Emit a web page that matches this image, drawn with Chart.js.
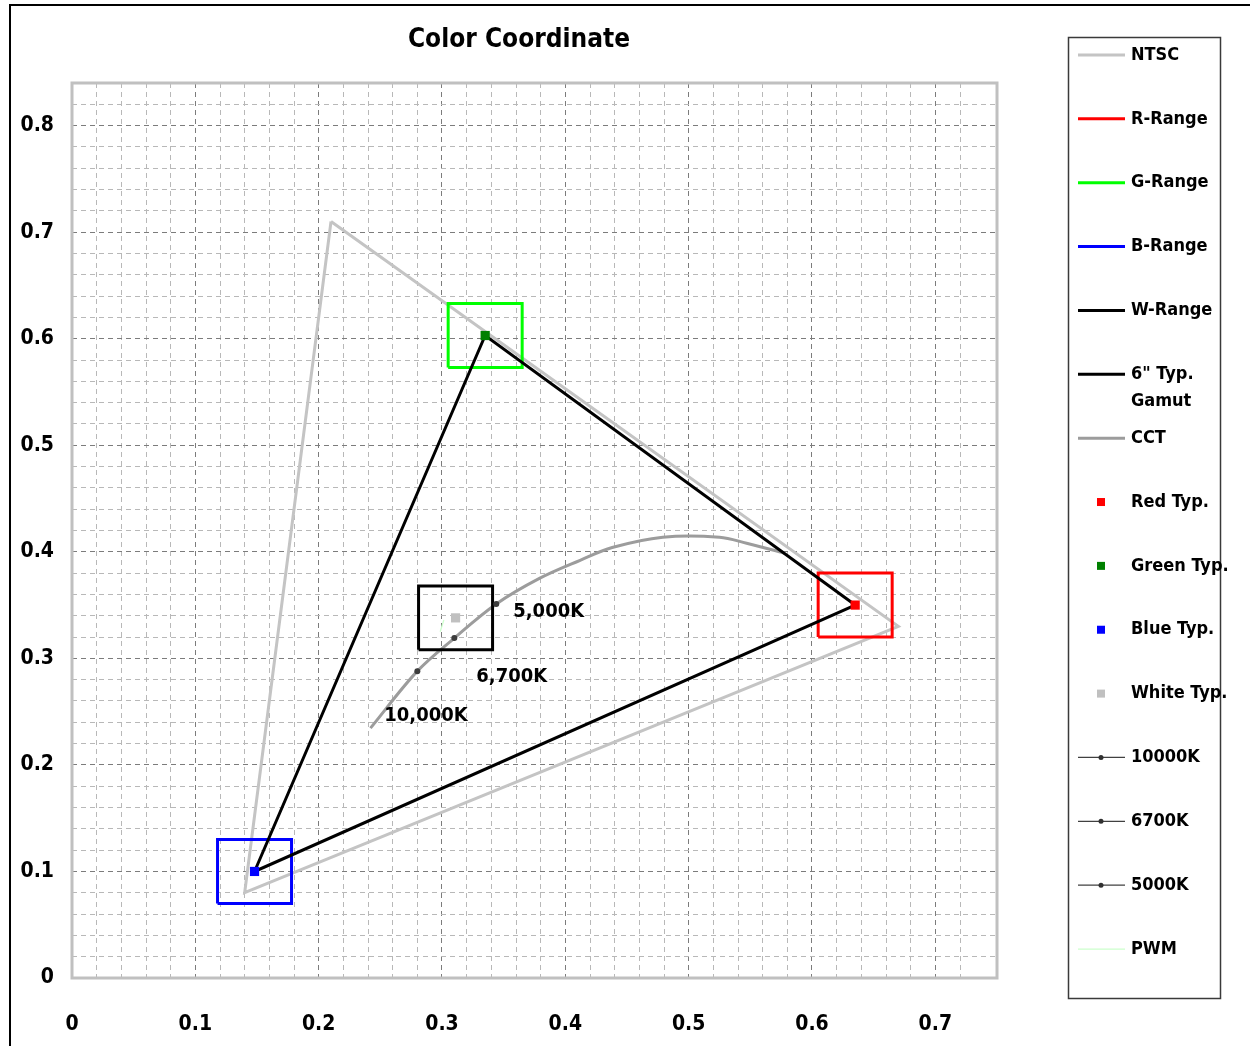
<!DOCTYPE html>
<html>
<head>
<meta charset="utf-8">
<script src="https://cdn.jsdelivr.net/npm/chart.js@4.4.0/dist/chart.umd.min.js"></script>
<style>
  html, body { margin: 0; padding: 0; background: #fff; }
</style>
</head>
<body>
<canvas id="colorChart" width="1250" height="1046"></canvas>
<script>
const FONT = "'Liberation Sans Narrow', 'DejaVu Sans Condensed', 'Liberation Sans', sans-serif"

// NTSC triangle (closed)
const ntscX = [0.21, 0.67, 0.14, 0.21]
const ntscY = [0.71, 0.33, 0.08, 0.71]

// range boxes [min, max]
const rRangeX = [0.605, 0.665], rRangeY = [0.32, 0.38]
const gRangeX = [0.305, 0.365], gRangeY = [0.573, 0.633]
const bRangeX = [0.118, 0.178], bRangeY = [0.07, 0.13]
const wRangeX = [0.281, 0.341], wRangeY = [0.308, 0.368]

// typical points
const redTyp = [0.635, 0.35]
const greenTyp = [0.335, 0.603]
const blueTyp = [0.148, 0.10]
const whiteTyp = [0.311, 0.338]

// CCT locus
const cctX = [0.242, 0.280, 0.310, 0.344, 0.379, 0.412, 0.438, 0.479, 0.525, 0.547, 0.578]
const cctY = [0.2345, 0.288, 0.319, 0.351, 0.375, 0.392, 0.404, 0.4137, 0.4137, 0.408, 0.3987]

// CCT markers
const markNames = ['10000K', '6700K', '5000K']
const markText = ['10,000K', '6,700K', '5,000K']
const markX = [0.280, 0.310, 0.344]
const markY = [0.288, 0.319, 0.351]

// PWM
const pwmX = [0.2985, 0.3015]
const pwmY = [0.325, 0.336]

// label offsets in px (style, not data)
const markTextOffset = [[-33, 45], [22, 39], [17, 8]]

const isMajor = v => Math.abs(v * 10 - Math.round(v * 10)) < 1e-6
const fmt = v => v === 0 ? '0' : v.toFixed(1)

const pts = (xs, ys) => xs.map((x, i) => ({ x, y: ys[i] }))
const box = (xs, ys) => pts([xs[0], xs[1], xs[1], xs[0], xs[0]], [ys[0], ys[0], ys[1], ys[1], ys[0]])

const lineSet = (label, data, color, width, order, extra) => ({
    label, data, borderColor: color, backgroundColor: color, borderWidth: width,
    showLine: true, pointRadius: 0, pointHoverRadius: 0, fill: false, tension: 0,
    order, kind: 'line', ...extra
})

const dotSet = (label, p, color, order) => ({
    label, data: [{ x: p[0], y: p[1] }], pointStyle: 'rect', pointRadius: 6.5,
    pointHoverRadius: 6.5, backgroundColor: color, borderColor: color, borderWidth: 0,
    showLine: false, order, kind: 'point'
})

const markSet = i => ({
    label: markNames[i], data: [{ x: markX[i], y: markY[i] }], pointStyle: 'circle',
    pointRadius: 3, pointHoverRadius: 3, backgroundColor: '#3c3c3c', borderColor: '#3c3c3c',
    borderWidth: 0, showLine: false, order: 1, kind: 'marker', text: markText[i], offset: markTextOffset[i]
})

const datasets = [
    lineSet('NTSC', pts(ntscX, ntscY), '#c4c4c4', 3, 6),
    lineSet('R-Range', box(rRangeX, rRangeY), '#ff0000', 3, 3),
    lineSet('G-Range', box(gRangeX, gRangeY), '#00ff00', 3, 3),
    lineSet('B-Range', box(bRangeX, bRangeY), '#0000ff', 3, 3),
    lineSet('W-Range', box(wRangeX, wRangeY), '#000000', 3, 3),
    lineSet(['6" Typ.', 'Gamut'], pts([redTyp[0], greenTyp[0], blueTyp[0], redTyp[0]], [redTyp[1], greenTyp[1], blueTyp[1], redTyp[1]]), '#000000', 3, 2),
    lineSet('CCT', pts(cctX, cctY), '#9c9c9c', 3, 4, { tension: 0.35 }),
    dotSet('Red Typ.', redTyp, '#ff0000', 0),
    dotSet('Green Typ.', greenTyp, '#008000', 0),
    dotSet('Blue Typ.', blueTyp, '#0000ff', 0),
    dotSet('White Typ.', whiteTyp, '#c0c0c0', 0),
    markSet(0),
    markSet(1),
    markSet(2),
    lineSet('PWM', pts(pwmX, pwmY), '#ccffcc', 1.2, 5)
]

const scaleOpts = (min, max, pad) => ({
    type: 'linear', min, max,
    ticks: {
        stepSize: 0.02, autoSkip: false, maxRotation: 0, padding: pad,
        color: '#000', font: { family: FONT, size: 21, weight: 'bold' },
        callback: v => isMajor(v) ? fmt(v) : ''
    },
    grid: {
        drawTicks: false, lineWidth: 1,
        color: ctx => ctx.tick && isMajor(ctx.tick.value) ? '#7c7c7c' : '#b8b8b8'
    },
    border: { display: false, dash: [5, 4] }
})

const xScale = scaleOpts(0, 0.75, 34)
xScale.afterFit = s => { s.height = 68 }
const yScale = scaleOpts(0, 0.84, 18)
yScale.afterFit = s => { s.width = 62 }

const decor = {
    id: 'decor',
    beforeDraw(chart) {
        const { ctx } = chart
        ctx.save()
        ctx.strokeStyle = '#000'
        ctx.lineWidth = 2
        ctx.beginPath()
        ctx.moveTo(10, 1046)
        ctx.lineTo(10, 5)
        ctx.lineTo(1250, 5)
        ctx.stroke()
        ctx.restore()
    },
    beforeDatasetsDraw(chart) {
        const { ctx, chartArea: a } = chart
        ctx.save()
        ctx.strokeStyle = '#c0c0c0'
        ctx.lineWidth = 3
        ctx.strokeRect(a.left, a.top, a.right - a.left, a.bottom - a.top)
        ctx.restore()
    },
    afterDraw(chart) {
        const { ctx, scales: { x, y } } = chart
        ctx.save()
        // title
        ctx.fillStyle = '#000'
        ctx.font = `bold 26px ${FONT}`
        ctx.textAlign = 'center'
        ctx.textBaseline = 'middle'
        ctx.fillText('Color Coordinate', 519, 40)

        // CCT labels
        ctx.font = `bold 20px ${FONT}`
        ctx.textAlign = 'left'
        chart.data.datasets.filter(d => d.kind === 'marker').forEach(d => {
            const px = x.getPixelForValue(d.data[0].x) + d.offset[0]
            const py = y.getPixelForValue(d.data[0].y) + d.offset[1]
            ctx.fillText(d.text, px, py)
        })

        // legend
        ctx.strokeStyle = '#3a3a3a'
        ctx.lineWidth = 1.5
        ctx.strokeRect(1068.5, 37.5, 152, 961)
        const rowH = 63.86
        ctx.font = `bold 18px ${FONT}`
        chart.data.datasets.forEach((d, i) => {
            const cy = 55 + i * rowH
            if (d.kind === 'line') {
                ctx.strokeStyle = d.borderColor
                ctx.lineWidth = d.borderWidth
                ctx.beginPath()
                ctx.moveTo(1078, cy)
                ctx.lineTo(1125, cy)
                ctx.stroke()
            } else if (d.kind === 'point') {
                ctx.fillStyle = d.backgroundColor
                ctx.fillRect(1097, cy - 4, 8, 8)
            } else {
                ctx.strokeStyle = '#404040'
                ctx.lineWidth = 1.2
                ctx.beginPath()
                ctx.moveTo(1078, cy)
                ctx.lineTo(1125, cy)
                ctx.stroke()
                ctx.fillStyle = '#303030'
                ctx.beginPath()
                ctx.arc(1101, cy, 2.5, 0, Math.PI * 2)
                ctx.fill()
            }
            ctx.fillStyle = '#000'
            const lines = Array.isArray(d.label) ? d.label : [d.label]
            lines.forEach((t, k) => ctx.fillText(t, 1131, cy + k * 27))
        })
        ctx.restore()
    }
}

new Chart('colorChart', {
    type: 'scatter',
    data: { datasets },
    options: {
        responsive: false,
        animation: false,
        devicePixelRatio: 1,
        layout: { padding: { left: 10, right: 253, top: 83, bottom: 0 } },
        scales: { x: xScale, y: yScale },
        plugins: { legend: { display: false }, tooltip: { enabled: false } }
    },
    plugins: [decor]
})
</script>
</body>
</html>
